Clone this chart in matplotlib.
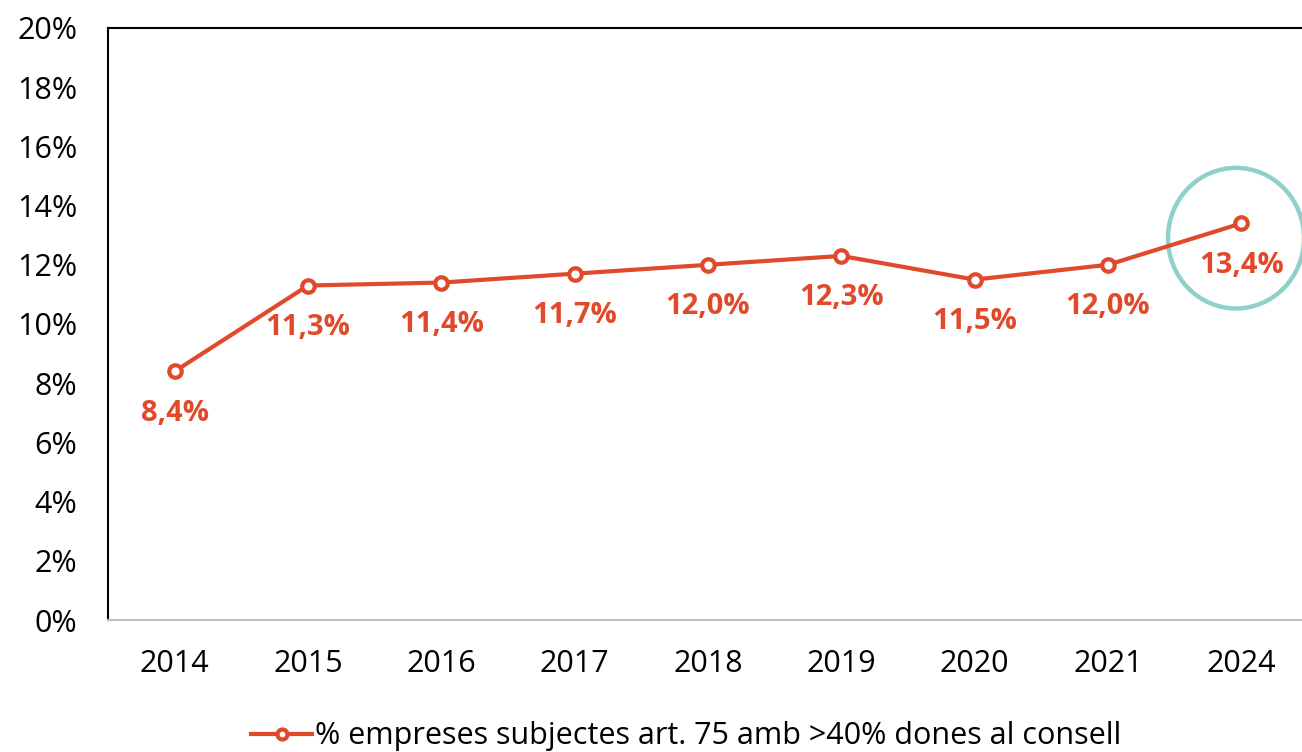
import matplotlib
matplotlib.use("Agg")
import matplotlib.pyplot as plt
from matplotlib.patches import Ellipse

plt.rcParams['font.family'] = ['Open Sans', 'DejaVu Sans']

years = ['2014', '2015', '2016', '2017', '2018', '2019', '2020', '2021', '2024']
values = [8.4, 11.3, 11.4, 11.7, 12.0, 12.3, 11.5, 12.0, 13.4]
value_labels = ['8,4%', '11,3%', '11,4%', '11,7%', '12,0%', '12,3%', '11,5%', '12,0%', '13,4%']
series_name = '% empreses subjectes art. 75 amb >40% dones al consell'

red = '#E04A2B'
teal = '#8FD1C8'

fig = plt.figure(figsize=(13.02, 7.52), dpi=100)
ax = fig.add_axes([108 / 1302, 132 / 752, 1200 / 1302, 592 / 752])

x = list(range(len(years)))
ax.plot(x, values, color=red, lw=3, marker='o', ms=9, mfc='white', mec=red, mew=3,
        label=series_name, zorder=3)

for xi, v, lab in zip(x, values, value_labels):
    ax.annotate(lab, (xi, v), xytext=(0, -30), textcoords='offset points',
                ha='center', va='center', fontsize=21, fontweight='bold', color=red)

# highlight circle around the last point
ax.add_patch(Ellipse((7.96, 12.9), 1.02, 4.75, fill=False, ec=teal, lw=3.2,
                     clip_on=False, zorder=2))

ax.set_xlim(-0.5, 8.5)
ax.set_ylim(0, 20)
ax.set_xticks(x)
ax.set_xticklabels(years)
ax.set_yticks(range(0, 21, 2))
ax.set_yticklabels([f'{t}%' for t in range(0, 21, 2)])
ax.tick_params(axis='both', length=0, labelsize=22, colors='black')
ax.tick_params(axis='x', pad=21)
ax.tick_params(axis='y', pad=22)

ax.spines['right'].set_visible(False)
ax.spines['top'].set_linewidth(1.5)
ax.spines['left'].set_linewidth(1.5)
ax.spines['bottom'].set_color('#BFBFBF')
ax.spines['bottom'].set_linewidth(1.5)

fig.legend(loc='center', bbox_to_anchor=(0.527, 0.021), frameon=False, fontsize=22,
           handlelength=2.0, handletextpad=0.1, markerscale=0.8)

fig.savefig('out.png', dpi=100)
